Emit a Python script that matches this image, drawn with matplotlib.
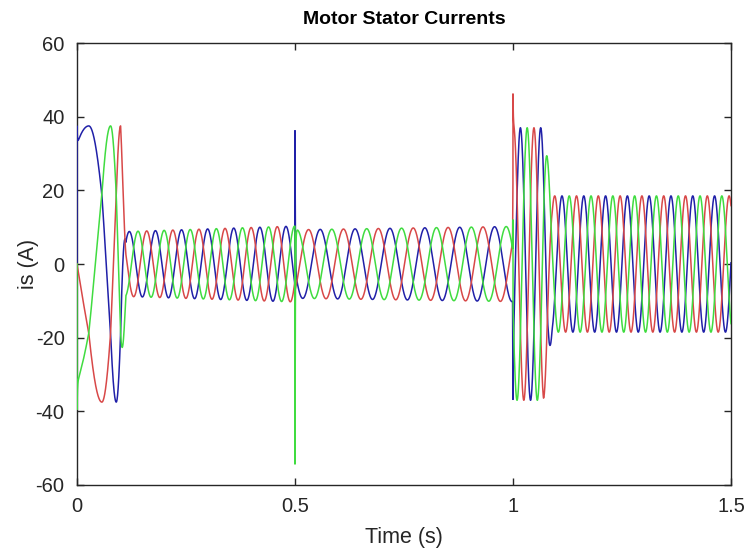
import numpy as np
import matplotlib.pyplot as plt

plt.rcParams['font.family'] = ['Liberation Sans', 'DejaVu Sans']
plt.rcParams['axes.unicode_minus'] = False

# start-up transient: phase of the current vector at a few instants (deg)
startup_t = [0.0, 0.027, 0.057, 0.077, 0.09, 0.1]
startup_phase = [-30, 0, 60, 120, 180, 240]

# later segments: start time (s), supply frequency (Hz), phase at start (deg)
seg_t = [0.1, 0.5, 1.0, 1.08]
seg_freq = [16.7, 12.5, 21.5, 20.0]
seg_phase = [240, 100, 228, 127]

# current amplitude envelope (A)
env_t = [0.0, 0.1, 0.112, 0.5, 0.5001, 0.999, 1.0, 1.07, 1.09, 1.5]
env_amp = [37.5, 37.5, 8.8, 10.3, 9.3, 10.2, 37.0, 37.0, 18.5, 18.5]

# switching spikes (A) added on each phase
spike_t = [0.0, 0.5, 1.0]
spike_a = [5, 38, -12]
spike_b = [0, 0, 10]
spike_c = [-7, -64, 0]

initial_current = 0.0

dt = 1e-4
t = np.arange(0, 1.5 + dt / 2, dt)

# phase angle
theta = np.interp(t, startup_t, startup_phase)
for k in range(len(seg_t)):
    t1 = seg_t[k + 1] if k + 1 < len(seg_t) else 2.0
    m = (t >= seg_t[k]) & (t < t1)
    theta[m] = seg_phase[k] + 360 * seg_freq[k] * (t[m] - seg_t[k])
theta = np.deg2rad(theta)

amp = np.interp(t, env_t, env_amp)
ia = amp * np.cos(theta)
ib = amp * np.cos(theta + 2 * np.pi / 3)
ic = amp * np.cos(theta - 2 * np.pi / 3)

tau = 0.0008
for k in range(len(spike_t)):
    d = t - spike_t[k]
    g = np.where(d >= 0, np.exp(-np.clip(d, 0, None) / tau), 0)
    ia += spike_a[k] * g
    ib += spike_b[k] * g
    ic += spike_c[k] * g

t = np.concatenate([[0.0], t])
ia = np.concatenate([[initial_current], ia])
ib = np.concatenate([[initial_current], ib])
ic = np.concatenate([[initial_current], ic])

fig = plt.figure(figsize=(7.44, 5.49), dpi=100)
ax = fig.add_axes([0.1035, 0.1166, 0.879, 0.805])

ax.plot(t, ia, color='#2020a8', lw=1.1, zorder=3)
ax.plot(t, ib, color='#d84848', lw=1.1, zorder=3)
ax.plot(t, ic, color='#40dc40', lw=1.1, zorder=3)

ax.set_xlim(0, 1.5)
ax.set_ylim(-60, 60)
ax.set_xticks([0, 0.5, 1, 1.5])
ax.set_xticklabels(['0', '0.5', '1', '1.5'])
ax.set_yticks(range(-60, 61, 20))
ax.tick_params(direction='in', length=5, width=1, top=True, right=True,
               labelsize=14.5, colors='#262626', pad=9)
for s in ax.spines.values():
    s.set_color('#262626')
    s.set_linewidth(1)

ax.set_title('Motor Stator Currents', fontsize=14, fontweight='bold', pad=14)
ax.set_xlabel('Time (s)', fontsize=15.5, color='#262626')
ax.set_ylabel('is (A)', fontsize=15.5, color='#262626')
ax.xaxis.set_label_coords(0.5, -0.095)
ax.yaxis.set_label_coords(-0.058, 0.5)

fig.savefig('out.png', dpi=100)
